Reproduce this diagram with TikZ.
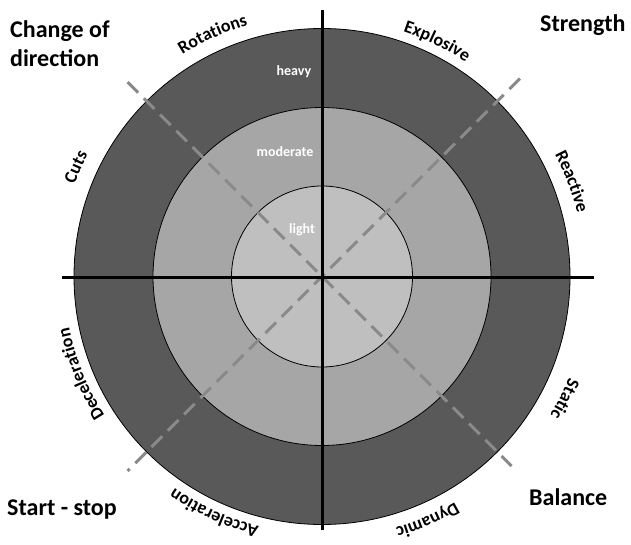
\documentclass[tikz,border=0pt]{standalone}
\usepackage{fontspec}
\setmainfont{Carlito}
\usetikzlibrary{decorations.text}
\definecolor{ringdark}{RGB}{89,89,89}
\definecolor{ringmid}{RGB}{166,166,166}
\definecolor{ringlight}{RGB}{191,191,191}
\definecolor{dashgray}{RGB}{138,138,138}
\newcommand\arclabel[3]{%
  \path[decorate, decoration={text along path, text align=center,
    text={|\bfseries\fontsize{18}{18}\selectfont|#3}}]
    ([shift={(#1+35:#2pt)}]C) arc[start angle=#1+35, end angle=#1-35, radius=#2pt];}
\begin{document}
\begin{tikzpicture}[x=1pt,y=1pt,
  ring/.style={draw=black, line width=0.8pt},
  axis/.style={draw=black, line width=3pt},
  diag/.style={draw=dashgray, line width=3pt, dash pattern=on 15pt off 8pt},
  level/.style={text=white, font=\bfseries\fontsize{14}{14}\selectfont, inner sep=0pt},
  corner/.style={font=\bfseries\fontsize{24}{24}\selectfont, anchor=base west, inner sep=0pt},
]
\useasboundingbox (0,0) rectangle (631,544);
\fill[white] (0,0) rectangle (631,544);
\coordinate (C) at (322,267.5);
\draw[ring, fill=ringdark] (C) circle[radius=248pt];
\draw[ring, fill=ringmid] (C) circle[radius=169pt];
\draw[ring, fill=ringlight] (C) circle[radius=90.5pt];
% diagonals
\coordinate (D1) at ([shift={(135:275pt)}]C);
\coordinate (D2) at ([shift={(-45:268pt)}]C);
\coordinate (D3) at ([shift={(45:280pt)}]C);
\coordinate (D4) at ([shift={(225:275pt)}]C);
\draw[diag] (D1) -- (D2);
\draw[diag] (D3) -- (D4);
% axes
\coordinate (V1) at (322,534);
\coordinate (V2) at (322,14);
\coordinate (H1) at (62,267);
\coordinate (H2) at (594,267);
\draw[axis] (V1) -- (V2);
\draw[axis] (H1) -- (H2);
% level labels
\node[level] (heavy) at (294,472) {heavy};
\node[level] (moderate) at (285,392) {moderate};
\node[level] (light) at (302,314) {light};
% curved labels
\arclabel{114.3}{262}{Rotations}
\arclabel{63.9}{258}{Explosive}
\arclabel{20.8}{263}{Reactive}
\arclabel{156}{264}{Cuts}
\arclabel{202}{258}{Deceleration}
\arclabel{245.5}{258}{Acceleration}
\arclabel{293.4}{262}{Dynamic}
\arclabel{333.2}{267}{Static}
% corner labels
\node[corner] (cod1) at (10,506) {Change of};
\node[corner] (cod2) at (10,477) {direction};
\node[corner] (str) at (540,512) {Strength};
\node[corner] (ss) at (7,29) {Start - stop};
\node[corner] (bal) at (529,39) {Balance};
\end{tikzpicture}
\end{document}
